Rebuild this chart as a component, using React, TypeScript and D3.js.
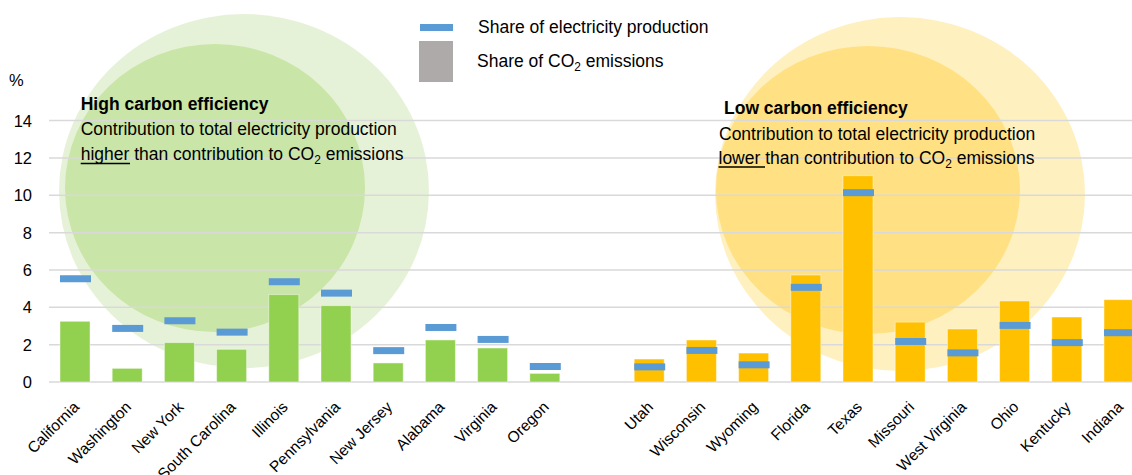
import React from "react";
import * as d3 from "d3";

// States with higher share of electricity than of CO2 emissions
const leftStates = ["California", "Washington", "New York", "South Carolina", "Illinois", "Pennsylvania", "New Jersey", "Alabama", "Virginia", "Oregon"];
const leftCO2 = [3.25, 0.73, 2.11, 1.75, 4.68, 4.09, 1.02, 2.25, 1.82, 0.46];
const leftElec = [5.53, 2.87, 3.28, 2.67, 5.37, 4.76, 1.68, 2.92, 2.28, 0.83];

// States with lower share of electricity than of CO2 emissions
const rightStates = ["Utah", "Wisconsin", "Wyoming", "Florida", "Texas", "Missouri", "West Virginia", "Ohio", "Kentucky", "Indiana"];
const rightCO2 = [1.23, 2.25, 1.55, 5.73, 11.05, 3.21, 2.84, 4.34, 3.48, 4.41];
const rightElec = [0.81, 1.69, 0.92, 5.07, 10.14, 2.17, 1.56, 3.03, 2.11, 2.64];

const yTicks = [0, 2, 4, 6, 8, 10, 12, 14];

const W = 1132;
const H = 475;
const FONT = "'Liberation Sans', Arial, Helvetica, sans-serif";

const GREEN = "#92D050";
const ORANGE = "#FFC000";
const BLUE = "#5B9BD5";
const GREY = "#AEAAAA";

type Row = { name: string; slot: number; co2: number; elec: number; color: string };

const rows: Row[] = [
  ...leftStates.map((name, i) => ({ name, slot: i, co2: leftCO2[i], elec: leftElec[i], color: GREEN })),
  ...rightStates.map((name, i) => ({ name, slot: i + 11, co2: rightCO2[i], elec: rightElec[i], color: ORANGE })),
];

const y = d3.scaleLinear().domain([0, 14]).range([382, 120.6]);
const x = d3.scaleLinear().domain([0, 20]).range([75, 1119]);
const barW = 30;
const markH = 7;

function Co2Text({ x: tx, y: ty, before, after, size = 17.5 }: { x: number; y: number; before: string; after: string; size?: number }) {
  return (
    <text x={tx} y={ty} fontFamily={FONT} fontSize={size} fill="#000">
      {before}CO
      <tspan fontSize={size * 0.68} dy={4}>2</tspan>
      <tspan dy={-4}>{after}</tspan>
    </text>
  );
}

export default function App() {
  return (
    <svg
      width={W}
      height={H}
      viewBox={`0 0 ${W} ${H}`}
      style={{ position: "absolute", left: 0, top: 0, display: "block", background: "#fff" }}
    >
      {/* background bubbles */}
      <ellipse cx={244} cy={191} rx={185} ry={177} fill="#E6F2D8" />
      <ellipse cx={215} cy={188} rx={150} ry={144} fill="#C9E5A7" />
      <ellipse cx={900} cy={194} rx={185} ry={177} fill="#FFF0C0" />
      <ellipse cx={868} cy={190} rx={152} ry={144} fill="#FFE083" />

      {/* gridlines */}
      {yTicks.map((t) => (
        <line key={t} x1={49} x2={W} y1={y(t)} y2={y(t)} stroke="#D9D9D9" strokeWidth={1.5} />
      ))}

      {/* y tick labels */}
      {yTicks.map((t) => (
        <text key={t} x={32} y={y(t) + 6} textAnchor="end" fontFamily={FONT} fontSize={16.5} fill="#000">
          {t}
        </text>
      ))}
      <text x={9} y={86} fontFamily={FONT} fontSize={16.5} fill="#000">%</text>

      {/* CO2 share bars */}
      {rows.map((r) => (
        <rect
          key={r.name}
          x={x(r.slot) - barW / 2}
          y={y(r.co2)}
          width={barW}
          height={y(0) - y(r.co2)}
          fill={r.color}
          stroke="#ffffff"
          strokeOpacity={0.45}
          strokeWidth={1}
        />
      ))}

      {/* electricity share markers */}
      {rows.map((r) => (
        <rect
          key={r.name + "-e"}
          x={x(r.slot) - barW / 2}
          y={y(r.elec) - markH / 2}
          width={barW + 1}
          height={markH}
          fill={BLUE}
        />
      ))}

      {/* category labels */}
      {rows.map((r) => (
        <text
          key={r.name + "-l"}
          transform={`translate(${x(r.slot) + 5},${408}) rotate(-45)`}
          textAnchor="end"
          fontFamily={FONT}
          fontSize={15.5}
          fill="#000"
        >
          {r.name}
        </text>
      ))}

      {/* legend */}
      <rect x={420} y={24} width={33} height={7} fill={BLUE} />
      <text x={478} y={33} fontFamily={FONT} fontSize={17.5} fill="#000">Share of electricity production</text>
      <rect x={419} y={41} width={34} height={41} fill={GREY} />
      <Co2Text x={477} y={67} before="Share of " after=" emissions" />

      {/* annotations */}
      <text x={80.7} y={110} fontFamily={FONT} fontSize={17.5} fontWeight="bold" fill="#000">High carbon efficiency</text>
      <text x={80.7} y={135} fontFamily={FONT} fontSize={17.5} fill="#000">Contribution to total electricity production</text>
      <Co2Text x={80.7} y={159.5} before="higher than contribution to " after=" emissions" />
      <line x1={80.7} x2={130} y1={163.5} y2={163.5} stroke="#000" strokeWidth={1.6} />

      <text x={724} y={114} fontFamily={FONT} fontSize={17.5} fontWeight="bold" fill="#000">Low carbon efficiency</text>
      <text x={719} y={139.5} fontFamily={FONT} fontSize={17.5} fill="#000">Contribution to total electricity production</text>
      <Co2Text x={718.5} y={164} before="lower than contribution to " after=" emissions" />
      <line x1={718.5} x2={765} y1={167} y2={167} stroke="#000" strokeWidth={1.6} />
    </svg>
  );
}
